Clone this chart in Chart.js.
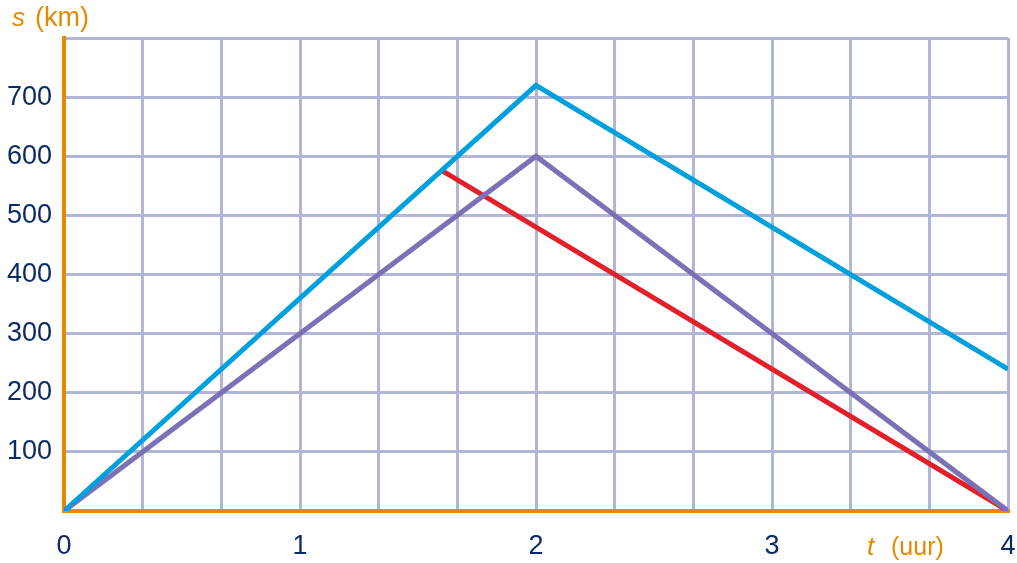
<!DOCTYPE html>
<html>
<head>
<meta charset="utf-8">
<script src="https://cdn.jsdelivr.net/npm/chart.js@4.4.1/dist/chart.umd.min.js"></script>
<style>
  html, body { margin: 0; padding: 0; background: #fff; }
  #wrap { width: 1017px; height: 563px; }
</style>
</head>
<body>
<div id="wrap"><canvas id="grafiek"></canvas></div>
<script>
// data (t in uur, s in km)
const tBlauw = [0, 2, 4];
const sBlauw = [0, 720, 240];
const tPaars = [0, 2, 4];
const sPaars = [0, 600, 0];
const tRood = [1.6, 4];
const sRood = [576, 0];

// tick labels
const tLabels = [0, 1, 2, 3, 4];
const sLabels = [100, 200, 300, 400, 500, 600, 700];

const ORANJE = "#E48A00";
const NAVY = "#0B2A66";
const RASTER = "#B1B5D6";
const FONT = "'Liberation Sans', Arial, sans-serif";

function punten(xs, ys) {
  return xs.map((x, i) => ({ x: x, y: ys[i] }));
}

// extra text: axis titles
const asTitels = {
  id: "asTitels",
  afterDraw(chart) {
    const c = chart.ctx;
    c.save();
    c.fillStyle = ORANJE;
    c.textBaseline = "alphabetic";
    c.textAlign = "left";
    c.font = "italic 26px " + FONT;
    c.fillText("s", 12, 26);
    c.font = "27px " + FONT;
    c.fillText("(km)", 35, 26);
    c.font = "italic 26px " + FONT;
    c.fillText("t", 867, 555);
    c.font = "25px " + FONT;
    c.fillText("(uur)", 891, 555);
    c.restore();
  }
};

new Chart(document.getElementById("grafiek"), {
  type: "line",
  data: {
    datasets: [
      { data: punten(tBlauw, sBlauw), borderColor: "#00A0DF" },
      { data: punten(tPaars, sPaars), borderColor: "#7B72B5" },
      { data: punten(tRood, sRood), borderColor: "#E3202A" }
    ]
  },
  options: {
    responsive: true,
    maintainAspectRatio: false,
    animation: false,
    layout: { padding: { left: 0, right: 9, top: 38, bottom: 0 } },
    elements: {
      line: { borderWidth: 5, tension: 0, fill: false, borderCapStyle: "butt" },
      point: { radius: 0 }
    },
    plugins: {
      legend: { display: false },
      tooltip: { enabled: false }
    },
    scales: {
      x: {
        type: "linear",
        min: 0,
        max: 4,
        afterBuildTicks(scale) {
          const t = [];
          for (let i = 0; i <= 12; i++) t.push({ value: i / 3 });
          scale.ticks = t;
        },
        afterFit(scale) {
          scale.height = 52;
          scale.paddingLeft = 0;
          scale.paddingRight = 0;
        },
        ticks: {
          color: NAVY,
          font: { family: FONT, size: 27 },
          padding: 19,
          maxRotation: 0,
          autoSkip: false,
          callback(v) {
            const r = Math.round(v);
            return Math.abs(v - r) < 1e-6 && tLabels.includes(r) ? String(r) : "";
          }
        },
        grid: { color: RASTER, lineWidth: 3, drawTicks: false },
        border: { color: ORANJE, width: 4 }
      },
      y: {
        min: 0,
        max: 800,
        afterFit(scale) { scale.width = 64; },
        ticks: {
          stepSize: 100,
          color: NAVY,
          font: { family: FONT, size: 27 },
          padding: 12,
          callback(v) { return sLabels.includes(v) ? String(v) : ""; }
        },
        grid: { color: RASTER, lineWidth: 3, drawTicks: false },
        border: { color: ORANJE, width: 4 }
      }
    }
  },
  plugins: [asTitels]
});
</script>
</body>
</html>
